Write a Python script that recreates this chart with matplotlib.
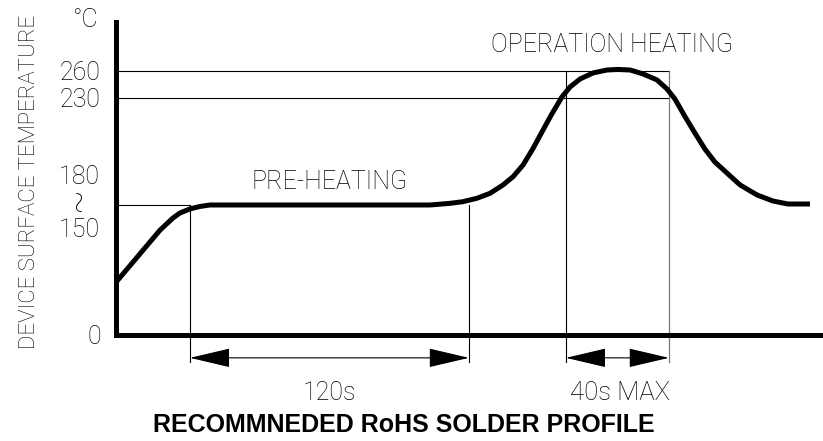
import numpy as np
import matplotlib
matplotlib.use("Agg")
import matplotlib.pyplot as plt
from matplotlib.transforms import blended_transform_factory

# ---- data (time in s, temperature in degC) ----
time_s = [0, 18.9, 24.5, 27.5, 31.8, 36.1, 40.4,
          135.1, 143.7, 149.2, 155.3, 160.9, 166.5, 170.8, 175.1, 179.4,
          183.2, 187.1, 191.8, 195.3, 199.6, 205.2, 211.2, 215.9, 221.1,
          226.7, 232.7, 237.0, 240.4,
          244.7, 249.0, 253.3, 257.6, 262.8, 268.4, 275.7, 282.6, 289.0, 298.5]
temp_c = [67, 133, 148.5, 154.8, 160, 163.1, 165,
          165, 166, 167, 169.1, 172.1, 177.2, 182.2, 189.3, 199.4,
          209.3, 219.4, 231.1, 242.2, 251.1, 257.8, 261.1, 261.7, 261.1,
          256.7, 250, 240, 229.4,
          218.8, 208.7, 199.0, 191.1, 184.4, 177.2, 171.1, 167.4, 165.6, 165.6]

ytick_vals = [0, 230, 260]
ytick_labels = ["0", "230", "260"]
preheat_range_labels = ["180", "~", "150"]
preheat_range_pos = [182, 168, 133.2]

preheat_level = 165
preheat_start, preheat_end = 31.8, 151.8
peak_start, peak_end = 193.5, 237.8
ref_levels = [260, 230]

preheat_label = "120s"
peak_label = "40s MAX"

# schematic (non-linear) temperature axis
scale_temp = [-165, 0, 165, 230, 260, 400]
scale_pos = [-130, 0, 130, 237, 264, 390]


def fwd(v):
    return np.interp(v, scale_temp, scale_pos)


def inv(v):
    return np.interp(v, scale_pos, scale_temp)


thin = ["Roboto", "DejaVu Sans"]
plt.rcParams["font.family"] = thin

fig = plt.figure(figsize=(8.23, 4.41), dpi=100)
ax = fig.add_axes([116 / 823, 106 / 441, 707 / 823, 313 / 441])
ax.set_yscale("function", functions=(fwd, inv))
ax.set_xlim(0, 304.1)
ax.set_ylim(0, 314.4)

for s in ["top", "right"]:
    ax.spines[s].set_visible(False)
for s in ["left", "bottom"]:
    ax.spines[s].set_linewidth(3.6)
    ax.spines[s].set_capstyle("projecting")

ax.set_xticks([])
ax.set_yticks(ytick_vals)
ax.set_yticklabels(ytick_labels, fontsize=18, fontweight="light")
ax.tick_params(axis="y", length=0, pad=11)
ax.yaxis.set_minor_locator(matplotlib.ticker.NullLocator())

# "180 ~ 150" range label beside the plateau
tr = blended_transform_factory(ax.transAxes, ax.transData)
for lab, pos in zip(preheat_range_labels, preheat_range_pos):
    if lab == "~":
        ax.text(-38 / 707, pos, lab, transform=tr, ha="center", va="center",
                fontsize=26, fontweight="light", rotation=90)
    else:
        ax.text(-16 / 707, pos, lab, transform=tr, ha="right", va="center",
                fontsize=18, fontweight="light")

thin_kw = dict(color="black", lw=0.8, zorder=2)
# horizontal reference lines
for lv in ref_levels:
    ax.plot([0, peak_end], [lv, lv], **thin_kw)
ax.plot([0, preheat_start], [preheat_level, preheat_level], **thin_kw)

# vertical extension lines
dim_y = -29
ext_y = -34
ax.plot([preheat_start, preheat_start], [preheat_level, ext_y], clip_on=False, **thin_kw)
ax.plot([preheat_end, preheat_end], [preheat_level, ext_y], clip_on=False, **thin_kw)
ax.plot([peak_start, peak_start], [260, ext_y], clip_on=False, **thin_kw)
ax.plot([peak_end, peak_end], [260, ext_y], clip_on=False, color="#777777", lw=0.9, zorder=2)

# profile curve
ax.plot(time_s, temp_c, color="black", lw=3.6, solid_joinstyle="round",
        solid_capstyle="butt", zorder=3)

# dimension arrows
arrow = dict(arrowstyle="<|-|>,head_length=26,head_width=6.1", mutation_scale=1,
             lw=0.8, color="black", shrinkA=0, shrinkB=0)
ax.annotate("", xy=(preheat_start, dim_y), xytext=(preheat_end, dim_y),
            arrowprops=arrow, annotation_clip=False)
ax.annotate("", xy=(peak_start, dim_y), xytext=(peak_end, dim_y),
            arrowprops=arrow, annotation_clip=False)

lab_y = -74
ax.text((preheat_start + preheat_end) / 2, lab_y, preheat_label, ha="center",
        va="center", fontsize=18, fontweight="light", clip_on=False)
ax.text((peak_start + peak_end) / 2 + 1, lab_y, peak_label, ha="center",
        va="center", fontsize=18.5, fontweight="light", clip_on=False)

ax.text(92, 179, "PRE-HEATING", ha="center", va="center", fontsize=18,
        fontweight="light")
ax.text(213.3, 289, "OPERATION HEATING", ha="center", va="center", fontsize=18,
        fontweight="light")

fig.text(30 / 823, 1 - 182 / 441, "DEVICE SURFACE TEMPERATURE", rotation=90,
         ha="center", va="center", fontsize=16, fontweight="light")
fig.text(85 / 823, 1 - 20 / 441, "\u00b0C", ha="center", va="center",
         fontsize=18, fontweight="light")

fig.text(404 / 823, 1 - 425 / 441, "RECOMMNEDED RoHS SOLDER PROFILE",
         ha="center", va="center", fontsize=18, fontweight="bold",
         family=["Liberation Sans Narrow", "Liberation Sans", "DejaVu Sans"])

fig.savefig("out.png", dpi=100)
